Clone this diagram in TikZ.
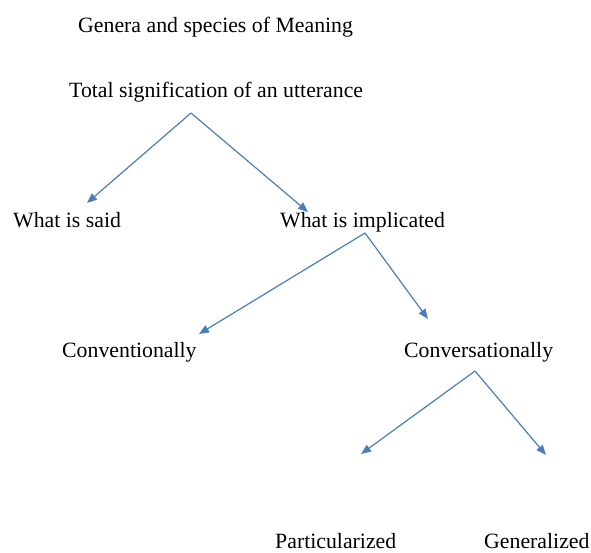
\documentclass[tikz,border=0pt]{standalone}
\usepackage{fontspec}
\setmainfont{Liberation Serif}
\usetikzlibrary{arrows.meta}
\definecolor{lineBlue}{HTML}{4A7EBB}

\begin{document}
\begin{tikzpicture}[
    x=1pt, y=-1pt,
    label/.style={%
      anchor=base west,
      inner sep=0pt,
      font=\fontsize{21.8}{26}\selectfont,
    },
    branch/.style={%
      draw=lineBlue,
      line width=1.2pt,
      -{Triangle[length=10pt,width=8pt]},
    },
  ]
    \useasboundingbox (0,0) rectangle (591,552);

    \node [label] (T) at (78,32) {Genera and species of Meaning};
    \node [label] (A) at (69,97) {Total signification of an utterance};
    \node [label] (B) at (13,227) {What is said};
    \node [label] (C) at (280,227) {What is implicated};
    \node [label] (D) at (62,357) {Conventionally};
    \node [label] (E) at (404,357) {Conversationally};
    \node [label] (F) at (275,548) {Particularized};
    \node [label] (G) at (484,548) {Generalized};

    \coordinate (a) at (191,113);
    \coordinate (c) at (365,233);
    \coordinate (e) at (475,371);
    \coordinate (b1) at (87,203);
    \coordinate (c1) at (308,212);
    \coordinate (d1) at (199,334);
    \coordinate (e1) at (428,319);
    \coordinate (f1) at (361,454);
    \coordinate (g1) at (546,455);

    \draw [branch] (a) -- (b1);
    \draw [branch] (a) -- (c1);
    \draw [branch] (c) -- (d1);
    \draw [branch] (c) -- (e1);
    \draw [branch] (e) -- (f1);
    \draw [branch] (e) -- (g1);
\end{tikzpicture}
\end{document}
